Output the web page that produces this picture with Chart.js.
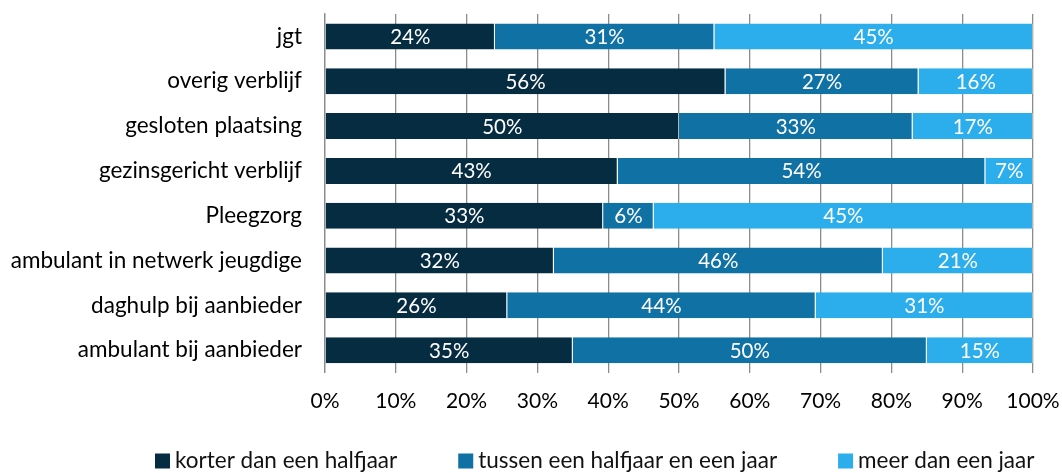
<!DOCTYPE html>
<html lang="nl">
<head>
    <meta charset="UTF-8">
    <title>Duur van de hulp per vorm</title>
    <script src="https://cdn.jsdelivr.net/npm/chart.js"></script>
    <style>
        html, body { margin: 0; padding: 0; background: #fff; }
        #wrap { width: 1062px; height: 473px; }
    </style>
</head>
<body>
    <div id="wrap"><canvas id="durationChart" width="1062" height="473"></canvas></div>

    <script>
        // Categories (top to bottom)
        const categories = [
            'jgt',
            'overig verblijf',
            'gesloten plaatsing',
            'gezinsgericht verblijf',
            'Pleegzorg',
            'ambulant in netwerk jeugdige',
            'daghulp bij aanbieder',
            'ambulant bij aanbieder'
        ];

        // Percentages as printed in the bars
        const korter = [24, 56, 50, 43, 33, 32, 26, 35];
        const tussen = [31, 27, 33, 54, 6, 46, 44, 50];
        const meer   = [45, 16, 17, 7, 45, 21, 31, 15];

        const seriesNames = ['korter dan een halfjaar', 'tussen een halfjaar en een jaar', 'meer dan een jaar'];
        const seriesColors = ['#062c42', '#1071a5', '#2cadec'];
        const xTicks = [0, 10, 20, 30, 40, 50, 60, 70, 80, 90, 100];

        // bars are drawn as share of the row total (100% stacked)
        const raw = [korter, tussen, meer];
        const totals = categories.map((_, i) => korter[i] + tussen[i] + meer[i]);
        const share = raw.map(s => s.map((v, i) => v / totals[i] * 100));

        const FONT = 'Lato, "Open Sans", sans-serif';

        // draws the printed percentage in the middle of each segment
        const barLabels = {
            id: 'barLabels',
            afterDatasetsDraw(chart) {
                const ctx = chart.ctx;
                ctx.save();
                ctx.font = '20.5px ' + FONT;
                ctx.fillStyle = '#ffffff';
                ctx.textAlign = 'center';
                ctx.textBaseline = 'middle';
                chart.data.datasets.forEach((ds, d) => {
                    chart.getDatasetMeta(d).data.forEach((bar, i) => {
                        const cx = (bar.x + bar.base) / 2;
                        ctx.fillText(raw[d][i] + '%', cx, bar.y + 1);
                    });
                });
                ctx.restore();
            }
        };

        // legend spread out along the bottom like the original
        const bottomLegend = {
            id: 'bottomLegend',
            afterDraw(chart) {
                const ctx = chart.ctx;
                const box = 15, gap = 5, itemGap = 61, y = 461;
                ctx.save();
                ctx.font = '22.5px ' + FONT;
                ctx.textBaseline = 'middle';
                let x = 155;
                chart.data.datasets.forEach(ds => {
                    ctx.fillStyle = ds.backgroundColor;
                    ctx.fillRect(x, y - box / 2, box, box);
                    ctx.fillStyle = '#111';
                    ctx.fillText(ds.label, x + box + gap, y);
                    x += box + gap + ctx.measureText(ds.label).width + itemGap;
                });
                ctx.restore();
            }
        };

        const ctx = document.getElementById('durationChart').getContext('2d');
        new Chart(ctx, {
            type: 'bar',
            data: {
                labels: categories,
                datasets: seriesNames.map((name, d) => ({
                    label: name,
                    data: share[d],
                    backgroundColor: seriesColors[d],
                    borderColor: 'rgba(255,255,255,0.35)',
                    borderWidth: { left: 0, right: 1, top: 0, bottom: 0 },
                    borderSkipped: false,
                    categoryPercentage: 1,
                    barPercentage: 0.58
                }))
            },
            options: {
                indexAxis: 'y',
                responsive: false,
                animation: false,
                layout: { padding: { top: 14, right: 29, left: 0, bottom: 0 } },
                plugins: {
                    legend: { display: false },
                    tooltip: { enabled: false }
                },
                scales: {
                    x: {
                        stacked: true,
                        min: 0,
                        max: 100,
                        afterBuildTicks(scale) {
                            scale.ticks = xTicks.map(v => ({ value: v }));
                        },
                        afterFit(scale) {
                            scale.height = 100.4;
                            scale.paddingLeft = 0;
                            scale.paddingRight = 0;
                        },
                        ticks: {
                            callback: v => v + '%',
                            font: { family: FONT, size: 21 },
                            color: '#000',
                            padding: 16,
                            maxRotation: 0
                        },
                        grid: { color: '#8c8c8c', lineWidth: 1.3, drawTicks: false },
                        border: { display: false }
                    },
                    y: {
                        stacked: true,
                        afterFit(scale) {
                            scale.width = 325;
                            scale.paddingTop = 0;
                            scale.paddingBottom = 0;
                        },
                        ticks: {
                            font: { family: FONT, size: 22.5 },
                            color: '#000',
                            padding: 15
                        },
                        grid: { display: false },
                        border: { display: true, color: '#8c8c8c', width: 1.3 }
                    }
                }
            },
            plugins: [barLabels, bottomLegend]
        });
    </script>
</body>
</html>
